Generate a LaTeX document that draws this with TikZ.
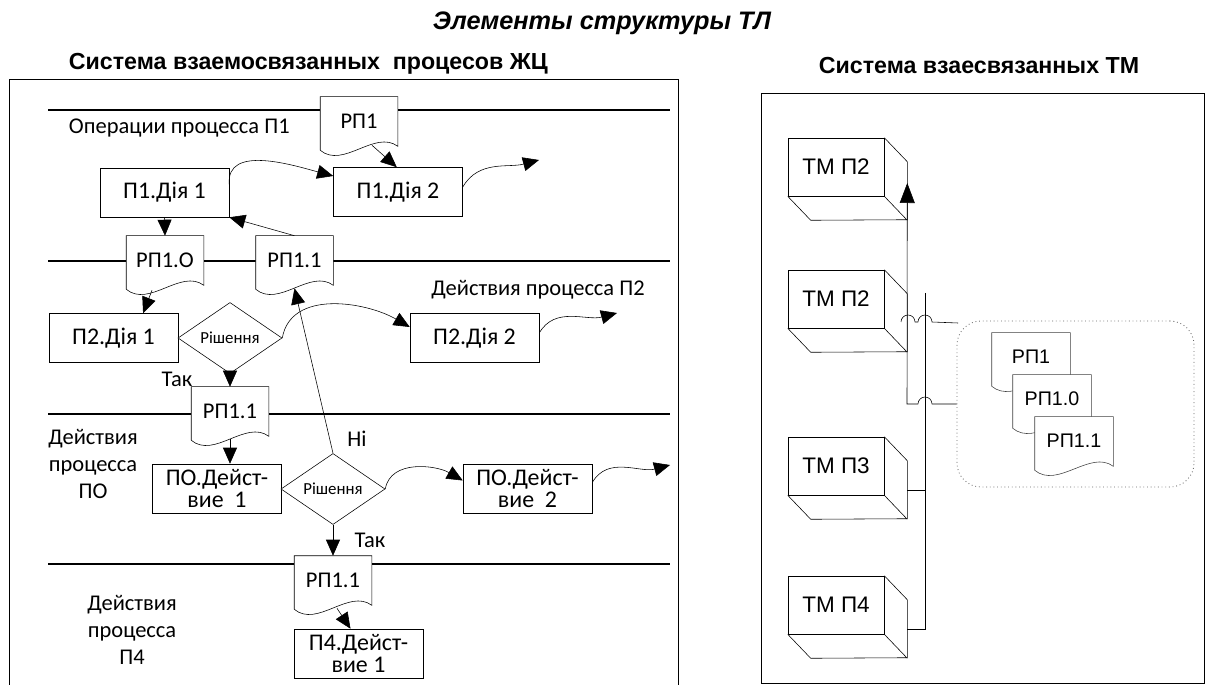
\documentclass[tikz,border=0pt]{standalone}
\usepackage{fontspec}
\setmainfont{Carlito}
\newfontfamily\arial{Liberation Sans}
\usetikzlibrary{shapes.geometric,arrows.meta,calc}

\begin{document}
\begin{tikzpicture}[x=0.25mm,y=0.25mm,
  every node/.style={font=\fontsize{16}{19}\selectfont,align=center},
  act/.style={draw,fill=white,minimum width=32.25mm,minimum height=12.25mm,inner sep=1pt,font=\fontsize{17}{16}\selectfont},
  doc/.style={minimum width=19.25mm,minimum height=14.5mm,inner sep=1pt,text depth=2.5mm,
    append after command={\pgfextra{\let\docnode\tikzlastnode
      \draw[draw=#1,fill=white] (\docnode.north west) -- (\docnode.north east) -- ($(\docnode.south east)+(0,9)$)
        .. controls ($(\docnode.south east)+(-23,26)$) and ($(\docnode.south west)+(23,-14)$) .. ($(\docnode.south west)+(0,5)$) -- cycle;}}},
  doc/.default=black,
  rdoc/.style={doc=black!75,minimum width=19.5mm,font=\arial\fontsize{14}{16}\selectfont},
  dec/.style={draw,fill=white,diamond,inner sep=0pt,minimum width=26mm,minimum height=17mm,font=\fontsize{12}{14}\selectfont},
  lane/.style={line width=2pt},
  flow/.style={-{Triangle[length=4mm,width=3.5mm]}},
  tm/.style={draw,minimum width=24mm,minimum height=14.5mm,font=\arial\fontsize{16}{19}\selectfont},
  group/.style={draw=black!60,dotted,semithick,rounded corners=6mm,minimum width=59.25mm,minimum height=41.5mm}]
\useasboundingbox (0,0) rectangle (1205,-685);

\node[anchor=base,font=\arial\bfseries\itshape\fontsize{18}{21}\selectfont] (title) at (602,-30) {Элементы структуры ТЛ};
\node[anchor=base west,font=\arial\bfseries\fontsize{16.5}{19}\selectfont] (hleft) at (64,-70) {Система взаемосвязанных \ процесов ЖЦ};
\node[anchor=base,font=\arial\bfseries\fontsize{16.5}{19}\selectfont] (hright) at (979,-74) {Система взаесвязанных ТМ};

\draw (9,-685) -- (9,-79) -- (678,-79) -- (678,-685);
\draw (761,-93) rectangle (1204,-683);

\foreach \y in {110,261,414,564}
  \draw[lane] (48,-\y) -- (670,-\y);

\node[anchor=west] (l1) at (64,-128) {Операции процесса П1};
\node (l2) at (538,-290) {Действия процесса П2};
\node (l3) at (93,-464) {Действия\\процесса\\ПО};
\node (l4) at (132,-630) {Действия\\процесса\\П4};

\node[doc] (d1) at (359,-126) {РП1};
\node[doc] (d2) at (165,-265) {РП1.О};
\node[doc] (d3) at (294.5,-265) {РП1.1};
\node[doc] (d4) at (230,-416) {РП1.1};
\node[doc] (d5) at (333,-585) {РП1.1};

\node[act] (a11) at (164.5,-192.5) {П1.Дія 1};
\node[act] (a12) at (398,-192) {П1.Дія 2};
\node[act] (a21) at (113.5,-338) {П2.Дія 1};
\node[act] (a22) at (474.5,-338) {П2.Дія 2};
\node[act] (b01) at (217,-488.5) {ПО.Дейст-\\вие\ \ 1};
\node[act] (b02) at (527.5,-488.5) {ПО.Дейст-\\вие\ \ 2};
\node[act] (b41) at (358.5,-653.5) {П4.Дейст-\\вие 1};

\node[dec] (r1) at (230,-338) {Рішення};
\node[dec] (r2) at (333,-489) {Рішення};

\node (y1) at (177,-379) {Так};
\node (n2) at (357,-439) {Ні};
\node (y2) at (370,-540) {Так};

\coordinate (e1) at (539,-160);
\coordinate (e2) at (617,-313);
\coordinate (e3) at (670,-465);

\draw[flow] ([xshift=3.25mm,yshift=2.5mm]d1.south) -- ([xshift=-0.3mm]a12.north);
\draw[flow] ([yshift=2mm]a11.east) to[out=95,in=165] ([yshift=4mm]a12.west);
\draw[flow] (a11.south) -- (d2.north);
\draw[flow] (d3.north) -- (a11.south east);
\draw[flow] ([xshift=-3.25mm,yshift=1mm]d2.south) -- ([xshift=7.4mm]a21.north);
\draw[flow] (r1.east) to[out=80,in=150] ([yshift=2.75mm]a22.west);
\draw[flow] ([yshift=1.25mm]a12.east) to[out=60,in=195] (e1);
\draw[flow] ([yshift=1.25mm]a22.east) to[out=60,in=195] (e2);
\draw[flow] (r1.south) -- (d4.north);
\draw[flow] ([yshift=1.5mm]d4.south) -- (d4.south |- b01.north);
\draw[flow] (r2.north) -- ([yshift=1.5mm]d3.south);
\draw[flow] (r2.east) to[out=80,in=150] ([yshift=2mm]b02.west);
\draw[flow] ([yshift=1.5mm]b02.east) to[out=60,in=195] (e3);
\draw[flow] (r2.south) -- (d5.north);
\draw[flow] ([xshift=1mm,yshift=1.5mm]d5.south) -- ([xshift=-2mm]b41.north);

\foreach \n/\y/\t in {1/167/ТМ П2,2/299/ТМ П2,3/466/ТМ П3,4/605/ТМ П4} {
  \node[tm] (tm\n) at (836,-\y) {\t};
  \draw (tm\n.north east) -- ++(23,-24) -- ++(0,-58) -- ($(tm\n.south west)+(23,-24)$) -- (tm\n.south west)
        (tm\n.south east) -- ++(23,-24);
}

\node[group] (grp) at (1075.5,-404) {};
\node[rdoc] (p1) at (1031,-362) {РП1};
\node[rdoc] (p2) at (1052,-404) {РП1.0};
\node[rdoc] (p3) at (1074,-446) {РП1.1};

\coordinate (bus) at (925,-293);
\coordinate (stub) at (958,-323);
\draw[-{Triangle[length=5mm,width=3.75mm]}] (grp.west) -- (932,-404) arc(0:180:7) -- (907,-404) -- ($(tm1.east)+(23,-16)$);
\draw (bus) |- ($(tm4.east)+(23,-24)$);
\draw ($(tm3.east)+(23,-24)$) -- (bus |- 0,-490);
\draw (stub) -- (932,-322) arc(0:180:7) -- (915,-322) arc(0:180:7);
\end{tikzpicture}
\end{document}
